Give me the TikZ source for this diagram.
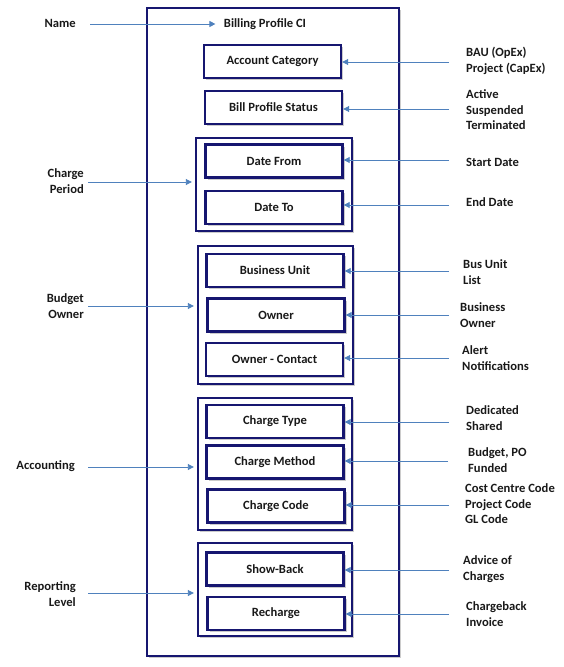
\documentclass[tikz,border=0pt]{standalone}
\usepackage{fontspec}
\setmainfont{Carlito}
\usetikzlibrary{shadows,arrows.meta}
\definecolor{navy}{RGB}{22,22,112}
\definecolor{arrowblue}{RGB}{79,129,189}
\begin{document}
\begin{tikzpicture}[x=1pt,y=-1pt,
  every node/.style={font=\bfseries\fontsize{12.6}{15.5}\selectfont, text=black!90},
  frame/.style={draw=navy, line width=2.4pt, fill=white,
    drop shadow={shadow xshift=2.2pt, shadow yshift=-2.2pt, fill=black!40}},
  field/.style={frame, minimum width=137pt, minimum height=33pt, inner sep=0pt},
  rlabel/.style={anchor=west, align=left, inner sep=0pt},
  llabel/.style={anchor=east, align=right, inner sep=0pt},
  link/.style={draw=arrowblue, line width=0.9pt, -{Triangle[length=6pt,width=6pt]}},
]
\useasboundingbox (0,0) rectangle (563,667);

% container
\node[frame, minimum width=252pt, minimum height=648pt] (outer) at (273,332) {};
\node (title) at (265,24) {Billing Profile CI};

% groups
\node[frame, minimum width=156pt, minimum height=93pt]  (gperiod) at (274,184.5) {};
\node[frame, minimum width=155pt, minimum height=138pt] (gowner)  at (275.5,315) {};
\node[frame, minimum width=154pt, minimum height=132pt] (gacct)   at (275,464) {};
\node[frame, minimum width=154pt, minimum height=93pt]  (greport) at (275,589.5) {};

% fields
\node[field] (acct)   at (272.5,61.5) {Account Category};
\node[field] (status) at (273.5,107.5) {Bill Profile Status};
\node[field] (dfrom)  at (274,161) {Date From};
\node[field] (dto)    at (274,207.5) {Date To};
\node[field] (bunit)  at (275,270.5) {Business Unit};
\node[field] (owner)  at (276,315) {Owner};
\node[field] (ocont)  at (274.5,359.5) {Owner - Contact};
\node[field] (ctype)  at (275,421.5) {Charge Type};
\node[field] (cmeth)  at (275,462) {Charge Method};
\node[field] (ccode)  at (276,506) {Charge Code};
\node[field] (show)   at (275,569) {Show-Back};
\node[field] (rech)   at (276,613.5) {Recharge};

% left labels
\node[llabel] (lname)   at (76,23)  {Name};
\node[llabel] (lperiod) at (84,181) {Charge\\Period};
\node[llabel] (lbudget) at (84,306) {Budget\\Owner};
\node[llabel] (laccnt)  at (75,466) {Accounting};
\node[llabel] (lreport) at (76,594) {Reporting\\Level};

\coordinate (sname)   at (90,24);
\coordinate (speriod) at (88,182);
\coordinate (sbudget) at (88,306);
\coordinate (saccnt)  at (88,467);
\coordinate (sreport) at (88,593);

\draw[link, shorten >=5pt] (sname) -- (title.west);
\draw[link, shorten >=3pt] (speriod) -- (gperiod.west |- speriod);
\draw[link, shorten >=3pt] (sbudget) -- (gowner.west |- sbudget);
\draw[link, shorten >=3pt] (saccnt) -- (gacct.west |- saccnt);
\draw[link, shorten >=3pt] (sreport) -- (greport.west |- sreport);

% right labels
\node[rlabel] (racct)   at (466,61)  {BAU (OpEx)\\Project (CapEx)};
\node[rlabel] (rstatus) at (466,110) {Active\\Suspended\\Terminated};
\node[rlabel] (rfrom)   at (466,162) {Start Date};
\node[rlabel] (rto)     at (466,202) {End Date};
\node[rlabel] (rbunit)  at (463,272) {Bus Unit\\List};
\node[rlabel] (rowner)  at (460,315) {Business\\Owner};
\node[rlabel] (rocont)  at (462,358) {Alert\\Notifications};
\node[rlabel] (rctype)  at (466,418) {Dedicated\\Shared};
\node[rlabel] (rcmeth)  at (468,460) {Budget, PO\\Funded};
\node[rlabel] (rccode)  at (465,504) {Cost Centre Code\\Project Code\\GL Code};
\node[rlabel] (rshow)   at (463,569) {Advice of\\Charges};
\node[rlabel] (rrech)   at (466,614) {Chargeback\\Invoice};

\coordinate (tacct)   at (449,62);
\coordinate (tstatus) at (449,109);
\coordinate (tfrom)   at (449,160);
\coordinate (tto)     at (449,205);
\coordinate (tbunit)  at (449,271);
\coordinate (towner)  at (449,315);
\coordinate (tocont)  at (449,358);
\coordinate (tctype)  at (449,422);
\coordinate (tcmeth)  at (448,461);
\coordinate (tccode)  at (449,505);
\coordinate (tshow)   at (449,570);
\coordinate (trech)   at (449,614);

\draw[link] (tacct)   -- (acct.east |- tacct);
\draw[link] (tstatus) -- (status.east |- tstatus);
\draw[link] (tfrom)   -- (dfrom.east |- tfrom);
\draw[link] (tto)     -- (dto.east |- tto);
\draw[link] (tbunit)  -- (bunit.east |- tbunit);
\draw[link] (towner)  -- (owner.east |- towner);
\draw[link] (tocont)  -- (ocont.east |- tocont);
\draw[link] (tctype)  -- (ctype.east |- tctype);
\draw[link] (tcmeth)  -- (cmeth.east |- tcmeth);
\draw[link] (tccode)  -- (ccode.east |- tccode);
\draw[link] (tshow)   -- (show.east |- tshow);
\draw[link] (trech)   -- (rech.east |- trech);
\end{tikzpicture}
\end{document}
